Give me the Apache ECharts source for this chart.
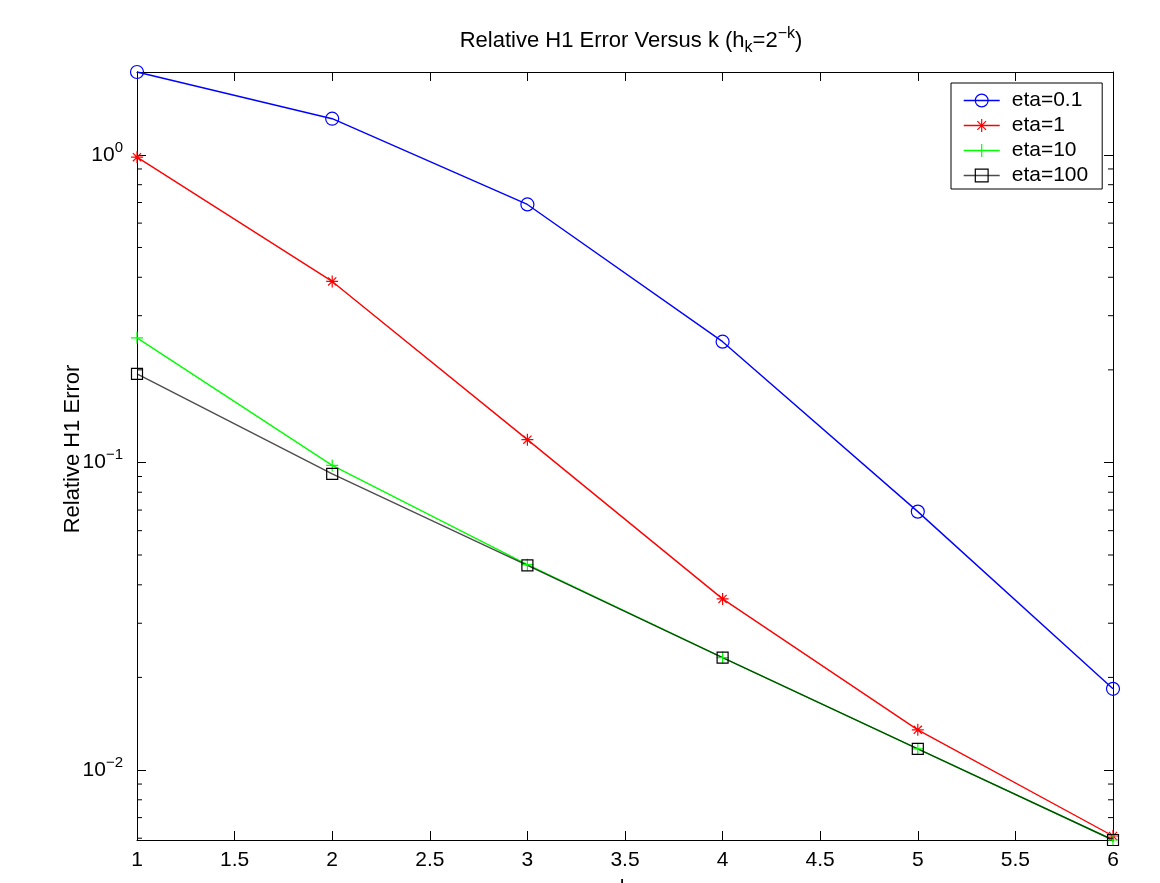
<!DOCTYPE html>
<html><head><meta charset="utf-8">
<script src="https://cdn.jsdelivr.net/npm/echarts@6/dist/echarts.min.js"></script>
<style>html,body{margin:0;padding:0;background:#fff}#c{width:1160px;height:883px}</style>
</head><body><div id="c"></div>
<script>
const kValues = [1, 2, 3, 4, 5, 6];
const eta01 = [1.86, 1.311, 0.690, 0.247, 0.0692, 0.01836];
const eta1 = [0.983, 0.3877, 0.1186, 0.0360, 0.01351, 0.0061];
const eta10 = [0.2542, 0.0978, 0.0465, 0.0232, 0.01172, 0.00592];
const eta100 = [0.194, 0.0918, 0.0463, 0.0232, 0.01172, 0.00592];
const seriesNames = ['eta=0.1', 'eta=1', 'eta=10', 'eta=100'];
const xMin = 1, xMax = 6, xStep = 0.5;
const yMin = 0.00592, yMax = 1.86;
const yMinorTicks = [0.006, 0.007, 0.008, 0.009, 0.02, 0.03, 0.04, 0.05, 0.06, 0.07, 0.08, 0.09,
  0.2, 0.3, 0.4, 0.5, 0.6, 0.7, 0.8, 0.9];

const FONT = '"Liberation Sans", Arial, Helvetica, sans-serif';
const chart = echarts.init(document.getElementById('c'), null, { renderer: 'canvas' });

const pair = arr => kValues.map((k, i) => [k, arr[i]]);
const STAR = 'path://M5 0L5 10M0 5L10 5M1.6 1.6L8.4 8.4M8.4 1.6L1.6 8.4';
const PLUS = 'path://M5 0L5 10M0 5L10 5';

function mkSeries(name, data, color, symbol, size, lineOpacity) {
  return {
    type: 'line', name, data: pair(data), symbol, symbolSize: size,
    clip: false, silent: true,
    lineStyle: { color, width: 1.4, opacity: lineOpacity },
    itemStyle: { color: 'transparent', borderColor: color, borderWidth: 1.2 },
    emphasis: { disabled: true }
  };
}

const supFmt = v => {
  const e = Math.log10(v), r = Math.round(e);
  if (Math.abs(e - r) > 1e-6) return '';
  return '{b|10}{s|' + (r < 0 ? '\u2212' + (-r) : r) + '}';
};

const option = {
  animation: false,
  backgroundColor: '#fff',
  title: {
    text: '{n|Relative H1 Error Versus k (h}{sub|k}{n|=2}{sup|\u2212k}{n|)}',
    left: 626, top: 21, textAlign: 'center',
    textStyle: {
      fontWeight: 'normal',
      rich: {
        n: { fontFamily: FONT, fontSize: 22, fontWeight: 'normal', color: '#000', lineHeight: 30, verticalAlign: 'middle' },
        sub: { fontFamily: FONT, fontSize: 16, fontWeight: 'normal', color: '#000', lineHeight: 10, verticalAlign: 'bottom' },
        sup: { fontFamily: FONT, fontSize: 16, fontWeight: 'normal', color: '#000', lineHeight: 12, verticalAlign: 'top' }
      }
    }
  },
  legend: {
    data: seriesNames, orient: 'vertical', left: 951, top: 83,
    itemWidth: 36, itemHeight: 16, itemGap: 4,
    padding: [7, 14, 3, 12],
    borderColor: '#000', borderWidth: 1, backgroundColor: '#fff',
    lineStyle: { width: 1.4 },
    itemStyle: { borderWidth: 1.2 },
    textStyle: { fontFamily: FONT, fontSize: 21, color: '#000', padding: [0, 0, 0, 7] },
    selectedMode: false
  },
  grid: { left: 137, right: 47, top: 72, bottom: 43, containLabel: false, outerBoundsMode: 'none' },
  xAxis: [
    {
      type: 'value', min: xMin, max: xMax, interval: xStep, position: 'bottom',
      name: 'k', nameLocation: 'middle', nameGap: 38, nameMoveOverlap: false,
      nameTextStyle: { fontFamily: FONT, fontSize: 21, color: '#000' },
      axisLine: { show: true, onZero: false, lineStyle: { color: '#000', width: 1 } },
      axisTick: { show: true, inside: true, length: 9, lineStyle: { color: '#000' } },
      axisLabel: { fontFamily: FONT, fontSize: 21, color: '#000', margin: 10, formatter: v => String(v) },
      splitLine: { show: false }
    },
    {
      type: 'value', min: xMin, max: xMax, interval: xStep, position: 'top',
      axisLine: { show: true, onZero: false, lineStyle: { color: '#000', width: 1 } },
      axisTick: { show: true, inside: true, length: 9, lineStyle: { color: '#000' } },
      axisLabel: { show: false }, splitLine: { show: false }
    }
  ],
  yAxis: [
    {
      type: 'log', logBase: 10, min: yMin, max: yMax, position: 'left',
      name: 'Relative H1 Error', nameLocation: 'middle', nameGap: 53, nameRotate: 90, nameMoveOverlap: false,
      nameTextStyle: { fontFamily: FONT, fontSize: 22, color: '#000', padding: [0, 0, 0, 14] },
      axisLine: { show: true, onZero: false, lineStyle: { color: '#000', width: 1 } },
      axisTick: { show: true, inside: true, length: 9, lineStyle: { color: '#000' } },
      axisLabel: {
        margin: 14, formatter: supFmt,
        rich: {
          b: { fontFamily: FONT, fontSize: 21, color: '#000', lineHeight: 30, verticalAlign: 'middle' },
          s: { fontFamily: FONT, fontSize: 15, color: '#000', lineHeight: 14, verticalAlign: 'top' }
        }
      },
      splitLine: { show: false }
    },
    {
      type: 'log', logBase: 10, min: yMin, max: yMax, position: 'right',
      axisLine: { show: true, onZero: false, lineStyle: { color: '#000', width: 1 } },
      axisTick: { show: true, inside: true, length: 9, lineStyle: { color: '#000' } },
      axisLabel: { show: false }, splitLine: { show: false }
    }
  ],
  series: [
    mkSeries(seriesNames[0], eta01, '#0000ff', 'circle', 13, 1),
    mkSeries(seriesNames[1], eta1, '#ff0000', STAR, 12, 1),
    mkSeries(seriesNames[2], eta10, '#00ff00', PLUS, 12, 1),
    mkSeries(seriesNames[3], eta100, '#000000', 'rect', 11, 0.7),
    {
      type: 'custom', name: 'minorTicks', silent: true, clip: false, z: 5,
      data: yMinorTicks.map(v => [xMin, v]),
      renderItem: (params, api) => {
        const v = api.value(1);
        const pl = api.coord([xMin, v]);
        const pr = api.coord([xMax, v]);
        const st = { stroke: '#000', lineWidth: 1 };
        return {
          type: 'group', children: [
            { type: 'line', shape: { x1: pl[0], y1: pl[1], x2: pl[0] + 5, y2: pl[1] }, style: st },
            { type: 'line', shape: { x1: pr[0], y1: pr[1], x2: pr[0] - 5, y2: pr[1] }, style: st }
          ]
        };
      }
    }
  ]
};
chart.setOption(option);
</script></body></html>
